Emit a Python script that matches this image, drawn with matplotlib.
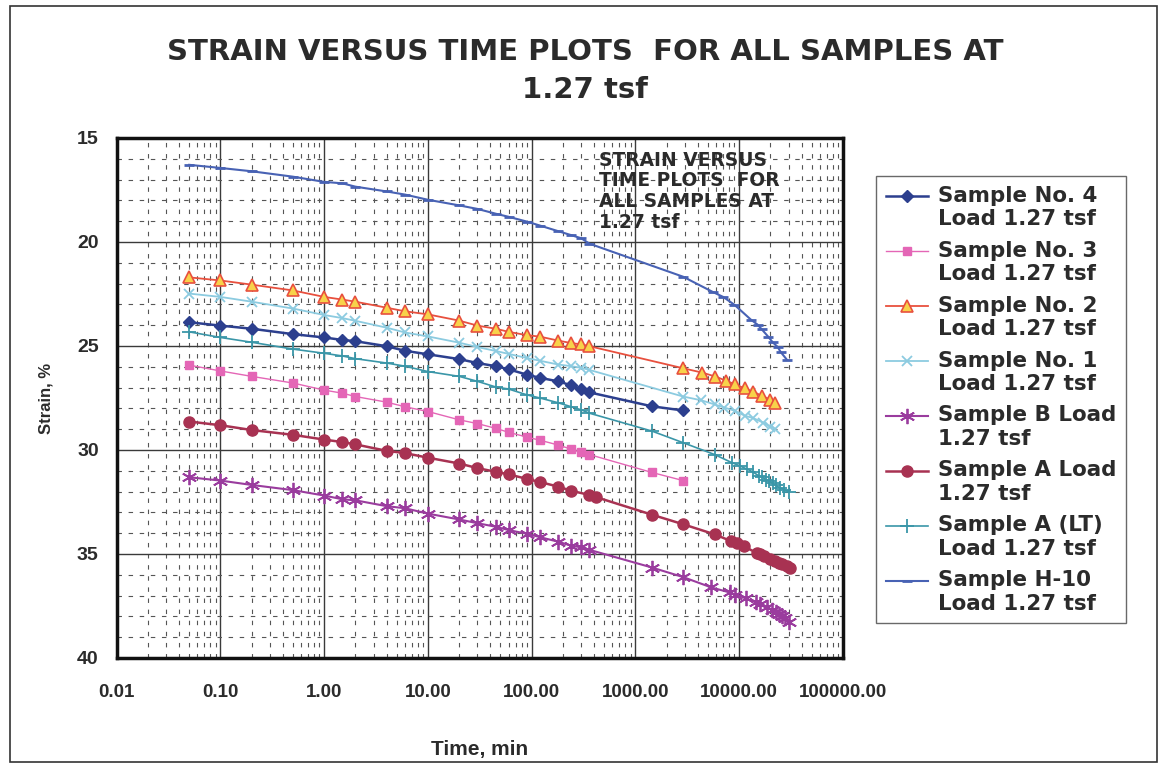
import matplotlib
matplotlib.use('Agg')
import matplotlib.pyplot as plt
from matplotlib.ticker import FixedLocator, FixedFormatter, MultipleLocator, NullFormatter
from matplotlib.legend_handler import HandlerLine2D
from matplotlib.patches import Rectangle

plt.rcParams['font.family'] = ['Liberation Sans', 'DejaVu Sans']
plt.rcParams['font.weight'] = 'bold'
wide = ['DejaVu Sans']
ink = '#2b2b2b'

# readings: time in minutes, strain in %
t_early = [0.05, 0.1, 0.2, 0.5, 1, 1.5, 2, 4, 6, 10, 20, 30, 45, 60, 90, 120, 180, 240, 300, 360]

t_no4 = t_early + [1440, 2880]
s_no4 = [23.86, 24.02, 24.17, 24.43, 24.59, 24.71, 24.77, 25.01, 25.23, 25.40, 25.63, 25.82, 25.97, 26.12,
         26.38, 26.53, 26.70, 26.89, 27.07, 27.23, 27.90, 28.10]

t_no3 = t_early + [1440, 2880]
s_no3 = [25.92, 26.20, 26.46, 26.78, 27.12, 27.27, 27.43, 27.70, 27.92, 28.15, 28.55, 28.73, 28.96, 29.15,
         29.38, 29.53, 29.76, 29.96, 30.12, 30.22, 31.08, 31.47]

t_no2 = t_early + [2880, 4400, 5900, 7400, 9100, 11300, 13700, 16600, 20000, 22300]
s_no2 = [21.70, 21.85, 22.05, 22.33, 22.64, 22.77, 22.87, 23.16, 23.33, 23.48, 23.78, 24.02, 24.17, 24.32,
         24.48, 24.55, 24.74, 24.86, 24.92, 25.01, 26.07, 26.28, 26.47, 26.66, 26.84, 27.04, 27.20, 27.40,
         27.58, 27.73]

t_no1 = t_early + [2880, 4300, 5800, 7200, 9100, 11300, 13700, 17100, 20000, 22300]
s_no1 = [22.48, 22.64, 22.87, 23.20, 23.51, 23.66, 23.79, 24.12, 24.35, 24.54, 24.84, 25.05, 25.24, 25.38,
         25.58, 25.71, 25.89, 25.97, 26.05, 26.15, 27.43, 27.61, 27.81, 27.96, 28.12, 28.35, 28.47, 28.69,
         28.88, 28.99]

t_b = t_early + [1440, 2880, 5400, 8100, 9200, 11500, 14400, 15900, 18500, 20700, 22500, 24000, 26000,
                 27700, 30300]
s_b = [31.31, 31.47, 31.68, 31.93, 32.19, 32.37, 32.42, 32.70, 32.80, 33.06, 33.34, 33.52, 33.69, 33.85,
       34.03, 34.19, 34.41, 34.60, 34.68, 34.80, 35.65, 36.11, 36.61, 36.85, 36.95, 37.13, 37.33, 37.41,
       37.53, 37.69, 37.79, 37.87, 37.98, 38.10, 38.26]

t_a = [0.05, 0.1, 0.2, 0.5, 1, 1.5, 2, 4, 6, 10, 20, 30, 45, 60, 90, 120, 180, 240, 360, 420,
       1440, 2880, 5830, 8240, 9550, 11000, 14700, 16000, 17200, 19900, 22000, 24000, 26000, 28800, 31000]
s_a = [28.63, 28.81, 29.04, 29.27, 29.50, 29.62, 29.73, 30.04, 30.15, 30.37, 30.65, 30.87, 31.05, 31.17,
       31.39, 31.54, 31.76, 31.96, 32.16, 32.27, 33.11, 33.57, 34.06, 34.37, 34.49, 34.62, 34.95, 35.02,
       35.11, 35.26, 35.34, 35.41, 35.50, 35.60, 35.65]

t_alt = t_early + [1440, 2880, 5800, 8500, 10100, 12000, 13500, 15400, 16500, 18000, 19500, 21000, 22500,
                   24500, 27000, 30000]
s_alt = [24.32, 24.59, 24.82, 25.15, 25.35, 25.48, 25.61, 25.82, 25.97, 26.23, 26.46, 26.70, 26.97, 27.07,
         27.35, 27.50, 27.73, 27.92, 28.07, 28.23, 29.09, 29.65, 30.22, 30.61, 30.76, 30.93, 31.05, 31.24,
         31.30, 31.42, 31.50, 31.60, 31.70, 31.81, 31.90, 32.00]

t_h10 = t_early + [2880, 5600, 7000, 9000, 13000, 15000, 16500, 19000, 21000, 23500, 25000, 28800]
s_h10 = [16.29, 16.44, 16.60, 16.86, 17.11, 17.18, 17.34, 17.57, 17.72, 17.97, 18.24, 18.41, 18.64, 18.79,
         19.02, 19.21, 19.48, 19.67, 19.82, 20.08, 21.67, 22.41, 22.64, 23.02, 23.74, 23.97, 24.20, 24.55,
         24.82, 25.05, 25.28, 25.66]

labels = ['Sample No. 4\nLoad 1.27 tsf', 'Sample No. 3\nLoad 1.27 tsf', 'Sample No. 2\nLoad 1.27 tsf',
          'Sample No. 1\nLoad 1.27 tsf', 'Sample B Load\n1.27 tsf', 'Sample A Load\n1.27 tsf',
          'Sample A (LT)\nLoad 1.27 tsf', 'Sample H-10\nLoad 1.27 tsf']
x_ticks = [0.01, 0.1, 1, 10, 100, 1000, 10000, 100000]
x_ticklabels = ['0.01', '0.10', '1.00', '10.00', '100.00', '1000.00', '10000.00', '100000.00']
y_ticks = [15, 20, 25, 30, 35, 40]


class FirstLineHandler(HandlerLine2D):
    """Puts the legend key level with the first line of a two-line label."""
    def __init__(self, lift, **kw):
        super().__init__(**kw)
        self.lift = lift

    def create_artists(self, legend, orig_handle, xdescent, ydescent, width, height, fontsize, trans):
        return super().create_artists(legend, orig_handle, xdescent, ydescent - 2 * self.lift,
                                      width, height, fontsize, trans)


fig = plt.figure(figsize=(11.59, 7.74), dpi=100)
W, H = 1159, 774
ax = fig.add_axes([116.7 / W, 1 - 658 / H, (843 - 116.7) / W, (658 - 138) / H])

# (times, strains, colour, marker, size, face, line width, marker edge width)
series = [
    (t_no4, s_no4, '#2c3f8e', 'D', 6, '#2c3f8e', 1.8, 1),
    (t_no3, s_no3, '#e466b6', 's', 6, '#e466b6', 1.0, 1),
    (t_no2, s_no2, '#e8503e', '^', 9, '#f8d24a', 1.3, 1.2),
    (t_no1, s_no1, '#8ccbe0', 'x', 7, '#8ccbe0', 1.3, 1.3),
    (t_b, s_b, '#9a3c9e', (6, 2, 0), 11, '#9a3c9e', 1.5, 1.3),
    (t_a, s_a, '#a83252', 'o', 8, '#a83252', 1.8, 1),
    (t_alt, s_alt, '#3a96a8', '+', 10, '#3a96a8', 1.2, 1.3),
    (t_h10, s_h10, '#4862b4', '_', 7, '#4862b4', 1.5, 2),
]
lines = []
for (t, s, c, m, ms, mfc, lw, mew), lab in zip(series, labels):
    ln, = ax.plot(t, s, color=c, marker=m, markersize=ms, markerfacecolor=mfc, markeredgecolor=c,
                  markeredgewidth=mew, linewidth=lw, label=lab)
    lines.append(ln)

ax.set_xscale('log')
ax.set_xlim(0.01, 100000)
ax.set_ylim(40, 15)
ax.xaxis.set_major_locator(FixedLocator(x_ticks))
ax.xaxis.set_major_formatter(FixedFormatter(x_ticklabels))
ax.xaxis.set_minor_locator(FixedLocator([m * 10.0 ** e for e in range(-2, 5) for m in range(2, 10)]))
ax.xaxis.set_minor_formatter(NullFormatter())
ax.yaxis.set_major_locator(FixedLocator(y_ticks))
ax.yaxis.set_minor_locator(MultipleLocator(1))
ax.grid(which='major', color='#3a3a3a', linewidth=1.0)
ax.grid(which='minor', color='#555555', linewidth=0.8, linestyle=(0, (4, 6)))
ax.tick_params(which='both', length=0)
ax.tick_params(axis='x', pad=19)
ax.tick_params(axis='y', pad=13)
for lab in ax.get_xticklabels():
    lab.set_fontsize(13.5)
    lab.set_color(ink)
for lab in ax.get_yticklabels():
    lab.set_fontsize(14)
    lab.set_color(ink)
for sp in ax.spines.values():
    sp.set_linewidth(2.5)
    sp.set_color('#111111')

ax.set_xlabel('Time, min', fontsize=15, fontweight='bold', color=ink, labelpad=28)
ax.set_ylabel('Strain, %', fontsize=12, fontweight='bold', color=ink, labelpad=17)

fig.text(585 / W, 1 - 52 / H, 'STRAIN VERSUS TIME PLOTS  FOR ALL SAMPLES AT', ha='center', va='center',
         family=wide, fontsize=21, color=ink)
fig.text(585 / W, 1 - 90 / H, '1.27 tsf', ha='center', va='center', family=wide, fontsize=21, color=ink)
fig.text(599 / W, 1 - 151 / H, 'STRAIN VERSUS\nTIME PLOTS  FOR\nALL SAMPLES AT\n1.27 tsf', ha='left',
         va='top', family=wide, fontsize=13.4, color=ink, linespacing=1.1)

leg_size = 15.4
leg = ax.legend(loc='upper left', bbox_to_anchor=(876 / W, 1 - 176 / H), bbox_transform=fig.transFigure,
                prop={'family': wide, 'weight': 'bold', 'size': leg_size}, frameon=True, fancybox=False,
                edgecolor='#444444', borderpad=0.45, borderaxespad=0, labelspacing=0.55, handlelength=2.0,
                handletextpad=0.45,
                handler_map={ln: FirstLineHandler(0.56 * leg_size) for ln in lines})
leg.get_frame().set_linewidth(1.0)
for txt in leg.get_texts():
    txt.set_color(ink)
    txt.set_linespacing(1.2)

# page frame round the whole chart
fig.patches.append(Rectangle((10 / W, 12 / H), (1157 - 10) / W, (762 - 6) / H, transform=fig.transFigure,
                             fill=False, edgecolor='#333333', linewidth=1.2))

fig.savefig('out.png', dpi=100)
